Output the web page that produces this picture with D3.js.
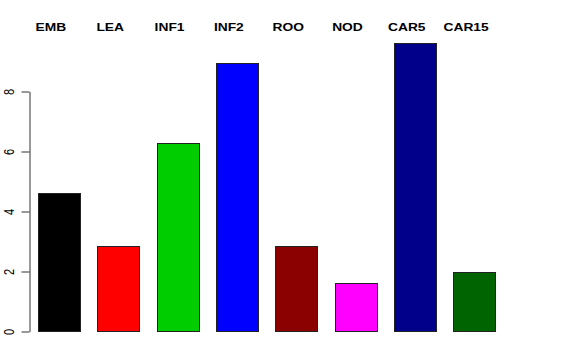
<!DOCTYPE html>
<html>
<head>
<meta charset="utf-8">
<script src="https://cdn.jsdelivr.net/npm/d3@7"></script>
<style>
  body { margin: 0; background: #fff; }
  text { font-family: "Liberation Sans", Arial, Helvetica, sans-serif; }
</style>
</head>
<body>
<svg id="chart" width="576" height="360"></svg>
<script>
// data
var categories = ["EMB", "LEA", "INF1", "INF2", "ROO", "NOD", "CAR5", "CAR15"];
var values = [4.6, 2.82, 6.27, 8.93, 2.82, 1.6, 9.6, 1.98];
var colors = ["#000000", "#FF0000", "#00CD00", "#0000FF", "#8B0000", "#FF00FF", "#00008B", "#006400"];
var yTicks = [0, 2, 4, 6, 8];

var svg = d3.select("#chart");

var x = d3.scaleBand()
    .domain(categories)
    .range([38, 495])
    .paddingInner(0.294)
    .paddingOuter(0);

var y = d3.scaleLinear()
    .domain([0, 8])
    .range([331, 91]);

// bars
svg.selectAll("rect.bar")
    .data(categories)
    .enter()
    .append("rect")
    .attr("class", "bar")
    .attr("x", function(d) { return Math.round(x(d)) + 0.5; })
    .attr("y", function(d, i) { return Math.round(y(values[i])) + 0.5; })
    .attr("width", function(d) { return Math.round(x.bandwidth()); })
    .attr("height", function(d, i) { return Math.round(y(0)) - Math.round(y(values[i])); })
    .attr("fill", function(d, i) { return colors[i]; })
    .attr("stroke", "#222")
    .attr("stroke-width", 1);

// y axis
var axis = svg.append("g")
    .attr("transform", "translate(29.5,0.5)")
    .call(d3.axisLeft(y).tickValues(yTicks).tickSize(8).tickSizeOuter(0).tickFormat(d3.format("d")));

axis.select(".domain").attr("stroke", "#333");
axis.selectAll(".tick line").attr("stroke", "#333");
axis.selectAll(".tick text")
    .attr("x", 0)
    .attr("dy", 0)
    .attr("text-anchor", "middle")
    .attr("font-size", 11)
    .attr("fill", "#000")
    .attr("transform", "translate(-21,0) scale(1.3,1) rotate(-90)")
    .attr("dominant-baseline", "central");

// labels on top
svg.selectAll("text.lab")
    .data(categories)
    .enter()
    .append("text")
    .attr("class", "lab")
    .attr("transform", function(d) {
        var cx = x(d) + x.bandwidth() / 2 - 8;
        return "translate(" + cx + ",31) scale(1.2,1)";
    })
    .attr("text-anchor", "middle")
    .attr("font-size", 11.5)
    .attr("font-weight", "bold")
    .text(function(d) { return d; });
</script>
</body>
</html>
